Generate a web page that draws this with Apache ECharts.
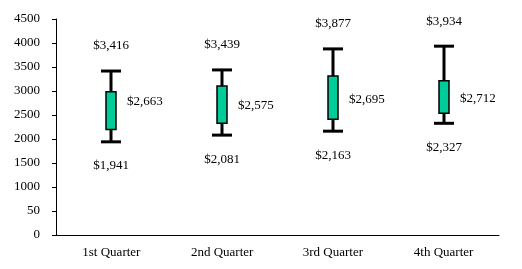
<!DOCTYPE html>
<html>
<head>
<meta charset="utf-8">
<script src="https://cdn.jsdelivr.net/npm/echarts@6/dist/echarts.min.js"></script>
<style>
html,body{margin:0;padding:0;background:#fff;}
#chart{width:522px;height:269px;}
</style>
</head>
<body>
<div id="chart"></div>
<script>
var categories = ['1st Quarter', '2nd Quarter', '3rd Quarter', '4th Quarter'];
var highValues = [3416, 3439, 3877, 3934];
var lowValues = [1941, 2081, 2163, 2327];
var boxTop = [2984, 3102, 3311, 3213];
var boxBottom = [2197, 2330, 2414, 2539];
var midValues = [2663, 2575, 2695, 2712];
var yTickLabels = ['0', '50', '1000', '1500', '2000', '2500', '3000', '3500', '4000', '4500'];

function money(v) {
  return '$' + v.toLocaleString('en-US');
}

var data = categories.map(function (c, i) {
  return [i, boxBottom[i], boxTop[i], lowValues[i], highValues[i], midValues[i]];
});

var FONT = '13px "Liberation Serif"';

var chart = echarts.init(document.getElementById('chart'), null, {renderer: 'canvas'});
chart.setOption({
  animation: false,
  backgroundColor: '#ffffff',
  grid: {left: 56, right: 23, top: 19, bottom: 34, containLabel: false},
  xAxis: {
    type: 'category',
    data: categories,
    boundaryGap: true,
    axisLine: {lineStyle: {color: '#000', width: 1}},
    axisTick: {show: false},
    axisLabel: {color: '#000', fontFamily: 'Liberation Serif', fontSize: 13, margin: 11},
    splitLine: {show: false}
  },
  yAxis: {
    type: 'value',
    min: 0,
    max: 4500,
    interval: 500,
    axisLine: {show: true, lineStyle: {color: '#000', width: 1}},
    axisTick: {show: true, inside: false, length: 4, lineStyle: {color: '#000'}},
    axisLabel: {
      color: '#000', fontFamily: 'Liberation Serif', fontSize: 13, margin: 16,
      formatter: function (v) { return yTickLabels[Math.round(v / 500)]; }
    },
    splitLine: {show: false}
  },
  series: [{
    type: 'custom',
    clip: false,
    data: data,
    encode: {x: 0, y: [1, 2, 3, 4]},
    renderItem: function (params, api) {
      var x = api.value(0);
      var pLow = api.coord([x, api.value(3)]);
      var pHigh = api.coord([x, api.value(4)]);
      var pB = api.coord([x, api.value(1)]);
      var pT = api.coord([x, api.value(2)]);
      var pM = api.coord([x, api.value(5)]);
      var cx = Math.round(pLow[0]);
      var boxW = 10, capW = 20;
      return {
        type: 'group',
        children: [
          {type: 'line', shape: {x1: cx, y1: pLow[1], x2: cx, y2: pHigh[1]},
            style: {stroke: '#000', lineWidth: 3}},
          {type: 'line', shape: {x1: cx - capW / 2, y1: pHigh[1], x2: cx + capW / 2, y2: pHigh[1]},
            style: {stroke: '#000', lineWidth: 3}},
          {type: 'line', shape: {x1: cx - capW / 2, y1: pLow[1], x2: cx + capW / 2, y2: pLow[1]},
            style: {stroke: '#000', lineWidth: 3}},
          {type: 'rect', shape: {x: cx - boxW / 2, y: pT[1], width: boxW, height: pB[1] - pT[1]},
            style: {fill: '#00CC99', stroke: '#000', lineWidth: 1.5}},
          {type: 'text', style: {text: money(api.value(4)), x: cx, y: pHigh[1] - 25,
            align: 'center', verticalAlign: 'middle', font: FONT, fill: '#000'}},
          {type: 'text', style: {text: money(api.value(3)), x: cx, y: pLow[1] + 24,
            align: 'center', verticalAlign: 'middle', font: FONT, fill: '#000'}},
          {type: 'text', style: {text: money(api.value(5)), x: cx + 16, y: pM[1] - 6,
            align: 'left', verticalAlign: 'middle', font: FONT, fill: '#000'}}
        ]
      };
    }
  }]
});
</script>
</body>
</html>
